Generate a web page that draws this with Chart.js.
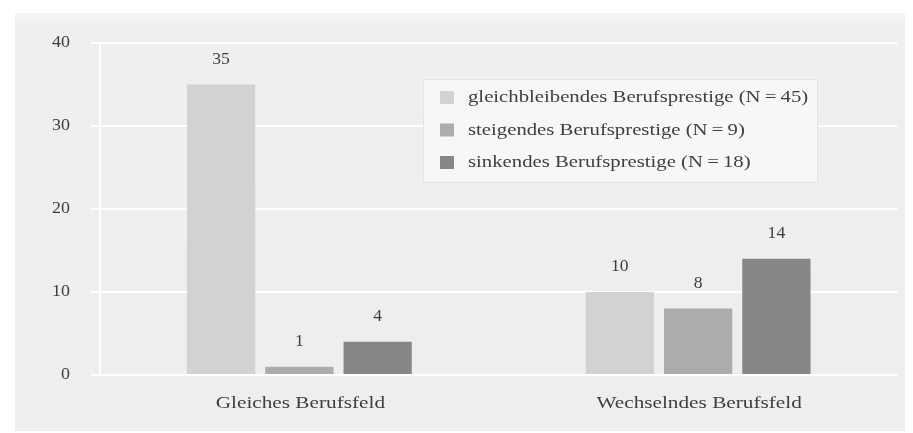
<!DOCTYPE html>
<html>
<head>
<meta charset="utf-8">
<script src="https://cdn.jsdelivr.net/npm/chart.js@4/dist/chart.umd.min.js"></script>
<style>
  html, body { margin: 0; padding: 0; background: #fff; }
  #wrap { position: relative; width: 913px; height: 433px; }
  #panel { position: absolute; left: 15px; top: 13px; width: 890px; height: 418px;
           background: linear-gradient(#f5f5f5 0px, #efefef 14px, #eeeeee 100%); }
  #chart { position: absolute; left: 0; top: 0; }
</style>
</head>
<body>
<div id="wrap">
  <div id="panel"></div>
  <canvas id="chart" width="913" height="433"></canvas>
</div>
<script>
// Berufsfeld x Entwicklung des Berufsprestiges (Anzahl)
var categories = ['Gleiches Berufsfeld', 'Wechselndes Berufsfeld'];
var seriesNames = [
    'gleichbleibendes Berufsprestige (N\u2009=\u200945)',
    'steigendes Berufsprestige (N\u2009=\u20099)',
    'sinkendes Berufsprestige (N\u2009=\u200918)'
];
var gleichbleibend = [35, 10];
var steigend = [1, 8];
var sinkend = [4, 14];
var yTicks = [0, 10, 20, 30, 40];

var colors = ['#d3d2d2', '#adacac', '#878787'];
var serif = '"Liberation Serif", "DejaVu Serif", serif';
var textCol = '#3e3e3e';

Chart.defaults.font.family = serif;
Chart.defaults.color = textCol;

// the typeset labels are a bit wider than the plain font, so stretch them horizontally
function wideText(ctx, text, x, y, sx, align) {
    ctx.save();
    ctx.translate(x, y);
    ctx.scale(sx, 1);
    ctx.textAlign = align;
    ctx.fillText(text, 0, 0);
    ctx.restore();
}

// axis labels drawn by hand so they can use the wide text
var axisLabels = {
    id: 'axisLabels',
    afterDraw: function (chart) {
        var ctx = chart.ctx, xs = chart.scales.x, ys = chart.scales.y;
        ctx.save();
        ctx.fillStyle = textCol;
        ctx.textBaseline = 'middle';
        ctx.font = '16px ' + serif;
        yTicks.forEach(function (v) {
            wideText(ctx, String(v), 70, ys.getPixelForValue(v), 1.12, 'right');
        });
        ctx.font = '17px ' + serif;
        chart.data.labels.forEach(function (lab, i) {
            wideText(ctx, lab, xs.getPixelForValue(i) + 1, xs.top + 29, 1.25, 'center');
        });
        ctx.restore();
    }
};

// value above every bar
var valueLabels = {
    id: 'valueLabels',
    afterDatasetsDraw: function (chart) {
        var ctx = chart.ctx;
        ctx.save();
        ctx.font = '16px ' + serif;
        ctx.fillStyle = textCol;
        ctx.textBaseline = 'bottom';
        chart.data.datasets.forEach(function (ds, i) {
            chart.getDatasetMeta(i).data.forEach(function (bar, j) {
                wideText(ctx, String(ds.data[j]), bar.x, bar.y - 17, 1.1, 'center');
            });
        });
        ctx.restore();
    }
};

// boxed legend inside the plot
var boxLegend = {
    id: 'boxLegend',
    afterDraw: function (chart) {
        var ctx = chart.ctx;
        var x = 423, y = 79, w = 395, h = 104;
        ctx.save();
        ctx.fillStyle = '#f7f7f7';
        ctx.fillRect(x, y, w, h);
        ctx.strokeStyle = '#e4e4e4';
        ctx.lineWidth = 1;
        ctx.strokeRect(x + 0.5, y + 0.5, w - 1, h - 1);
        ctx.font = '17px ' + serif;
        ctx.textBaseline = 'middle';
        chart.data.datasets.forEach(function (ds, i) {
            var cy = y + 18 + i * 32.5;
            ctx.fillStyle = ds.backgroundColor;
            ctx.fillRect(x + 17, cy - 6, 14, 13);
            ctx.fillStyle = textCol;
            wideText(ctx, ds.label, x + 45, cy + 1, 1.22, 'left');
        });
        ctx.restore();
    }
};

new Chart(document.getElementById('chart'), {
    type: 'bar',
    data: {
        labels: categories,
        datasets: [
            { label: seriesNames[0], data: gleichbleibend, backgroundColor: colors[0] },
            { label: seriesNames[1], data: steigend, backgroundColor: colors[1] },
            { label: seriesNames[2], data: sinkend, backgroundColor: colors[2] }
        ]
    },
    options: {
        responsive: false,
        animation: false,
        layout: { padding: { top: 43, right: 15.5, left: 0, bottom: 0 } },
        datasets: { bar: { categoryPercentage: 0.589, barPercentage: 0.872 } },
        plugins: { legend: { display: false }, tooltip: { enabled: false } },
        scales: {
            x: {
                grid: { display: false, drawTicks: false },
                border: { display: false },
                ticks: { display: false },
                afterFit: function (s) { s.height = 58; }
            },
            y: {
                min: 0, max: 40,
                afterBuildTicks: function (s) { s.ticks = yTicks.map(function (v) { return { value: v }; }); },
                grid: { color: '#ffffff', lineWidth: 2, tickLength: 9, tickColor: '#ffffff' },
                border: { display: true, color: '#ffffff', width: 2 },
                ticks: { display: false },
                afterFit: function (s) { s.width = 100; }
            }
        }
    },
    plugins: [valueLabels, boxLegend, axisLabels]
});
</script>
</body>
</html>
